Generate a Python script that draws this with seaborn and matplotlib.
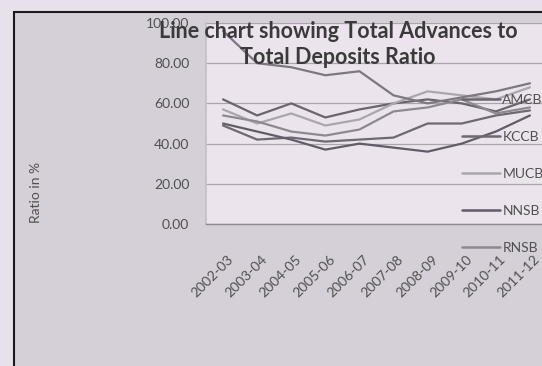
import matplotlib
matplotlib.use("Agg")
import matplotlib.pyplot as plt
import matplotlib.transforms as mtransforms
from matplotlib.patches import Rectangle
from matplotlib.lines import Line2D
import seaborn as sns
import pandas as pd

years = ['2002-03', '2003-04', '2004-05', '2005-06', '2006-07',
         '2007-08', '2008-09', '2009-10', '2010-11', '2011-12']
amcb = [62, 54, 60, 53, 57, 60, 62, 60, 56, 62]
kccb = [49, 42, 43, 41, 42, 43, 50, 50, 54, 56.5]
mucb = [57, 50, 55, 49, 52, 60, 66, 64, 62, 68]
nnsb = [50, 46, 42, 37, 40, 38, 36, 40, 46, 54]
rnsb = [54, 51, 46, 44, 47, 56, 58, 62, 55, 58]
other = [96, 80, 78, 74, 76, 64, 60, 63, 66, 70]

legend_names = ['AMCB', 'KCCB', 'MUCB', 'NNSB', 'RNSB']
series = {'AMCB': amcb, 'KCCB': kccb, 'MUCB': mucb,
          'NNSB': nnsb, 'RNSB': rnsb, 'other': other}
colors = {'AMCB': '#6a646f', 'KCCB': '#6e6873', 'MUCB': '#aaa5ae',
          'NNSB': '#625c69', 'RNSB': '#8d8892', 'other': '#7d7782'}

rows = []
for name, vals in series.items():
    for y, v in zip(years, vals):
        rows.append({'Year': y, 'Ratio': v, 'Bank': name})
df = pd.DataFrame(rows)

sns.set_theme(style="white")
plt.rcParams['font.family'] = ['Lato', 'DejaVu Sans']

W, H = 542, 366
fig = plt.figure(figsize=(W / 100, H / 100), dpi=100)
fig.patch.set_facecolor('#e8e0ea')
frame = Rectangle((14 / W, -0.01), 1.0, (H - 12) / H + 0.01,
                  transform=fig.transFigure, facecolor='#d5cfd7',
                  edgecolor='#1a1a1a', linewidth=1.5, zorder=-5)
fig.patches.append(frame)

ax = fig.add_axes([206 / W, (H - 224) / H, 341 / W, 201 / H])
ax.set_zorder(1)
ax.set_facecolor('#ece4ed')
sns.lineplot(data=df, x='Year', y='Ratio', hue='Bank', palette=colors,
             sort=False, linewidth=1.6, legend=False, ax=ax)
ax.set_xlim(-0.5, 9.5)
ax.set_ylim(0, 100)
ax.set_yticks([0, 20, 40, 60, 80, 100])
ax.set_yticklabels(['0.00', '20.00', '40.00', '60.00', '80.00', '100.00'])
ax.yaxis.grid(True, color='#aaa5ad', linewidth=0.9)
ax.set_axisbelow(True)
for s in ['top', 'right']:
    ax.spines[s].set_visible(False)
ax.spines['left'].set_color('#c4bec6')
ax.spines['bottom'].set_color('#8e8892')
ax.spines['bottom'].set_linewidth(1.0)
ax.tick_params(axis='y', length=0, pad=12, labelsize=10, labelcolor='#505050')
ax.tick_params(axis='x', length=0, pad=24, labelsize=10, labelcolor='#505050')
offset = mtransforms.ScaledTranslation(8 / 100, 0, fig.dpi_scale_trans)
for lab in ax.get_xticklabels():
    lab.set_rotation(45)
    lab.set_ha('right')
    lab.set_va('center')
    lab.set_rotation_mode('anchor')
    lab.set_transform(lab.get_transform() + offset)
ax.set_xlabel('')
ax.set_ylabel('')

fig.text(36 / W, 1 - 192 / H, 'Ratio in %', rotation=90, ha='center',
         va='center', fontsize=10, color='#505050', zorder=5)

fig.text(338 / W, 1 - 31 / H, 'Line chart showing Total Advances to',
         ha='center', va='center', fontsize=15.5, fontweight='bold',
         color='#3a3a3a', zorder=5)
fig.text(338 / W, 1 - 58 / H, 'Total Deposits Ratio',
         ha='center', va='center', fontsize=15.5, fontweight='bold',
         color='#3a3a3a', zorder=5)

handles = [Line2D([0], [0], color=colors[n], linewidth=1.8) for n in legend_names]
leg = fig.legend(handles, legend_names, loc='upper left',
                 bbox_to_anchor=(462 / W, 1 - 94 / H), frameon=False,
                 fontsize=10, handlelength=2.7, handletextpad=0.2,
                 labelspacing=1.8, borderaxespad=0, borderpad=0)
leg.set_zorder(6)
for t in leg.get_texts():
    t.set_color('#505050')

fig.savefig('out.png', dpi=100)
